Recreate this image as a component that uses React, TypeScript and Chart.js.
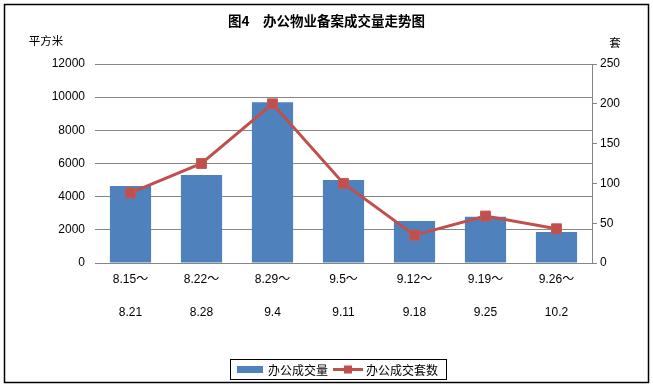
import React, { useEffect, useRef } from "react";
import { Chart, registerables } from "chart.js";

Chart.register(...registerables);

const chartTitle = "图4　办公物业备案成交量走势图";
const leftAxisTitle = "平方米";
const rightAxisTitle = "套";
const periodStart = ["8.15～", "8.22～", "8.29～", "9.5～", "9.12～", "9.19～", "9.26～"];
const periodEnd = ["8.21", "8.28", "9.4", "9.11", "9.18", "9.25", "10.2"];
const areaLabel = "办公成交量";
const unitLabel = "办公成交套数";
const areaValues = [4650, 5300, 9700, 5000, 2530, 2790, 1870];
const unitValues = [88, 125, 200, 100, 35, 59, 43];
const areaAxis = { min: 0, max: 12000, step: 2000 };
const unitAxis = { min: 0, max: 250, step: 50 };

const BLUE = "#4F81BD";
const RED = "#C0504D";
const GRID = "#868686";
const CJK = '"Noto Sans CJK SC", "Liberation Sans", sans-serif';
const NUM = '"Liberation Sans", "Noto Sans CJK SC", sans-serif';

const decorPlugin = {
  id: "decor",
  afterDraw(chart: any) {
    const ctx = chart.ctx as CanvasRenderingContext2D;
    ctx.save();
    // frame
    ctx.strokeStyle = "#000";
    ctx.lineWidth = 1.5;
    ctx.strokeRect(4.5, 4.5, 644, 378);
    // title
    ctx.fillStyle = "#000";
    ctx.textBaseline = "middle";
    ctx.textAlign = "center";
    ctx.font = `bold 13.5px ${CJK}`;
    ctx.fillText(chartTitle, 326.5, 21);
    // axis titles
    ctx.font = `11.5px ${CJK}`;
    ctx.fillText(leftAxisTitle, 46, 41);
    ctx.fillText(rightAxisTitle, 615, 43);
    // legend
    const ds = chart.data.datasets;
    ctx.lineWidth = 1;
    ctx.strokeStyle = "#000";
    ctx.strokeRect(230.5, 359.5, 216, 20);
    ctx.fillStyle = ds[0].backgroundColor;
    ctx.fillRect(237, 366, 26, 7);
    ctx.fillStyle = "#000";
    ctx.textAlign = "left";
    ctx.font = `12px ${CJK}`;
    ctx.fillText(ds[0].label, 268, 370);
    ctx.strokeStyle = ds[1].borderColor;
    ctx.lineWidth = 3;
    ctx.beginPath();
    ctx.moveTo(333, 369.5);
    ctx.lineTo(363, 369.5);
    ctx.stroke();
    ctx.fillStyle = ds[1].backgroundColor;
    ctx.fillRect(344, 365.5, 8, 8);
    ctx.fillStyle = "#000";
    ctx.fillText(ds[1].label, 366, 370);
    ctx.restore();
  },
};

export default function App() {
  const ref = useRef<HTMLCanvasElement | null>(null);

  useEffect(() => {
    if (!ref.current) return;
    const labels = periodStart.map((s, i) => [s, periodEnd[i]]);
    const chart = new Chart(ref.current, {
      type: "bar",
      data: {
        labels,
        datasets: [
          {
            type: "bar",
            label: areaLabel,
            data: areaValues,
            backgroundColor: BLUE,
            borderWidth: 0,
            yAxisID: "y",
            barPercentage: 0.58,
            categoryPercentage: 1,
            order: 1,
          } as any,
          {
            type: "line",
            label: unitLabel,
            data: unitValues,
            borderColor: RED,
            backgroundColor: RED,
            borderWidth: 3,
            pointStyle: "rect",
            pointRadius: 7,
            pointBorderWidth: 1,
            pointBackgroundColor: RED,
            pointBorderColor: "#C65854",
            tension: 0,
            fill: false,
            yAxisID: "y1",
            order: 0,
          } as any,
        ],
      },
      options: {
        responsive: false,
        animation: false,
        layout: { padding: { top: 64, left: 0, right: 0, bottom: 0 } },
        plugins: {
          legend: { display: false },
          title: { display: false },
          tooltip: { enabled: false },
        },
        scales: {
          x: {
            grid: { display: false, drawTicks: false },
            border: { display: false },
            ticks: {
              color: "#000",
              padding: 0,
              maxRotation: 0,
              autoSkip: false,
              font: { family: NUM, size: 12, lineHeight: 2.75 },
            },
            afterFit(scale: any) {
              scale.height = 123;
            },
          },
          y: {
            position: "left",
            min: areaAxis.min,
            max: areaAxis.max,
            ticks: {
              stepSize: areaAxis.step,
              color: "#000",
              padding: 10,
              font: { family: NUM, size: 12 },
              callback: (v: any) => String(v),
            },
            grid: { color: GRID, lineWidth: 1, drawTicks: false },
            border: { display: false },
            afterFit(scale: any) {
              scale.width = 95;
            },
          },
          y1: {
            position: "right",
            min: unitAxis.min,
            max: unitAxis.max,
            ticks: {
              stepSize: unitAxis.step,
              color: "#000",
              padding: 3,
              font: { family: NUM, size: 12 },
              callback: (v: any) => String(v),
            },
            grid: {
              drawOnChartArea: false,
              drawTicks: true,
              tickLength: 5,
              tickColor: GRID,
              color: GRID,
            },
            border: { display: true, color: GRID, width: 1 },
            afterFit(scale: any) {
              scale.width = 61;
            },
          },
        },
      },
      plugins: [decorPlugin],
    });
    return () => chart.destroy();
  }, []);

  return (
    <div style={{ position: "absolute", left: 0, top: 0, width: 653, height: 386, background: "#fff" }}>
      <canvas ref={ref} width={653} height={386} style={{ width: 653, height: 386, display: "block" }} />
    </div>
  );
}
